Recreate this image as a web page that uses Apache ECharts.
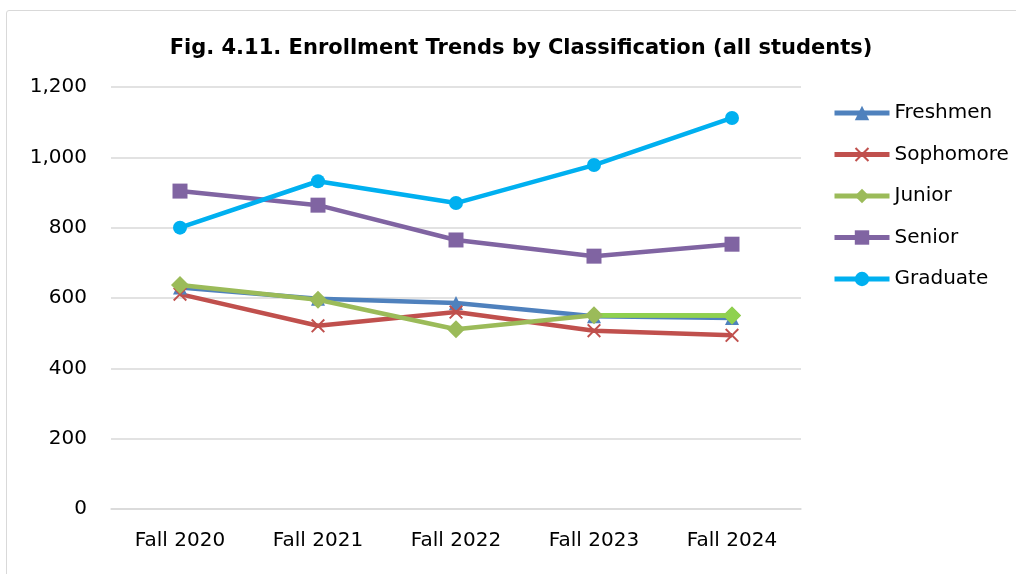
<!DOCTYPE html>
<html>
<head>
<meta charset="utf-8">
<script src="https://cdn.jsdelivr.net/npm/echarts@6/dist/echarts.min.js"></script>
<style>
html,body{margin:0;padding:0;background:#fff;}
#frame{position:absolute;left:6px;top:10px;width:1100px;height:600px;border:1px solid #d9d9d9;border-radius:3px;}
#chart{position:absolute;left:0;top:0;width:1016px;height:574px;}
</style>
</head>
<body>
<div id="frame"></div>
<div id="chart"></div>
<script>
const categories = ['Fall 2020','Fall 2021','Fall 2022','Fall 2023','Fall 2024'];
const freshmen   = [630, 598, 586, 548, 543];
const sophomore  = [611, 521, 560, 507, 494];
const junior     = [637, 595, 511, 551, 550];
const senior     = [904, 864, 765, 719, 753];
const graduate   = [800, 932, 870, 978, 1112];
const yTicks = [0, 200, 400, 600, 800, 1000, 1200];

const chart = echarts.init(document.getElementById('chart'), null, {renderer:'canvas'});
const font = 'DejaVu Sans, Verdana, sans-serif';
function mk(name, data, color, symbol, size){
  return {
    name, type:'line', data, color,
    symbol, symbolSize:size, showSymbol:true,
    lineStyle:{width:4.5, color},
    itemStyle:{color},
    emphasis:{disabled:true},
    animation:false
  };
}
const series = [
  mk('Freshmen', freshmen, '#4F81BD', 'triangle', 14),
  mk('Sophomore', sophomore, '#C0504D', 'path://M1,0 L5,4 L9,0 L10,1 L6,5 L10,9 L9,10 L5,6 L1,10 L0,9 L4,5 L0,1 Z', 14),
  mk('Junior', junior, '#9BBB59', 'diamond', 18),
  mk('Senior', senior, '#8064A2', 'rect', 15),
  mk('Graduate', graduate, '#00B0F0', 'circle', 14)
];
// last Junior segment is drawn in a brighter green in the reference
const juniorLast = mk('Junior ', junior.map((v,i)=> i>=3 ? v : null), '#8FD14F', 'diamond', 18);
juniorLast.data[3] = {value: junior[3], symbol:'none'};
series.splice(3, 0, juniorLast);
chart.setOption({
  backgroundColor:'transparent',
  title:{
    text:'Fig. 4.11. Enrollment Trends by Classification (all students)',
    left:516, top:33, textAlign:'center',
    textStyle:{fontFamily:font, fontWeight:'bold', fontSize:21, color:'#000'}
  },
  legend:{
    orient:'vertical', left:827, top:98,
    itemWidth:55, itemHeight:18, itemGap:21.5,
    lineStyle:{width:5},
    textStyle:{fontFamily:font, fontSize:20, color:'#000'},
    data:['Freshmen','Sophomore','Junior','Senior','Graduate']
  },
  grid:{left:111, right:215, top:87, bottom:65, containLabel:false},
  xAxis:{
    type:'category', data:categories, boundaryGap:true,
    axisLine:{show:true, lineStyle:{color:'#d9d9d9', width:1.5}},
    axisTick:{show:false},
    axisLabel:{fontFamily:font, fontSize:20, color:'#000', margin:22}
  },
  yAxis:{
    type:'value', min:0, max:1200, interval:200,
    axisLine:{show:false}, axisTick:{show:false},
    splitLine:{lineStyle:{color:'#d9d9d9', width:1.5}},
    axisLabel:{fontFamily:font, fontSize:20, color:'#000', margin:24,
      formatter:v=>v.toLocaleString('en-US')}
  },
  series
});
</script>
</body>
</html>
